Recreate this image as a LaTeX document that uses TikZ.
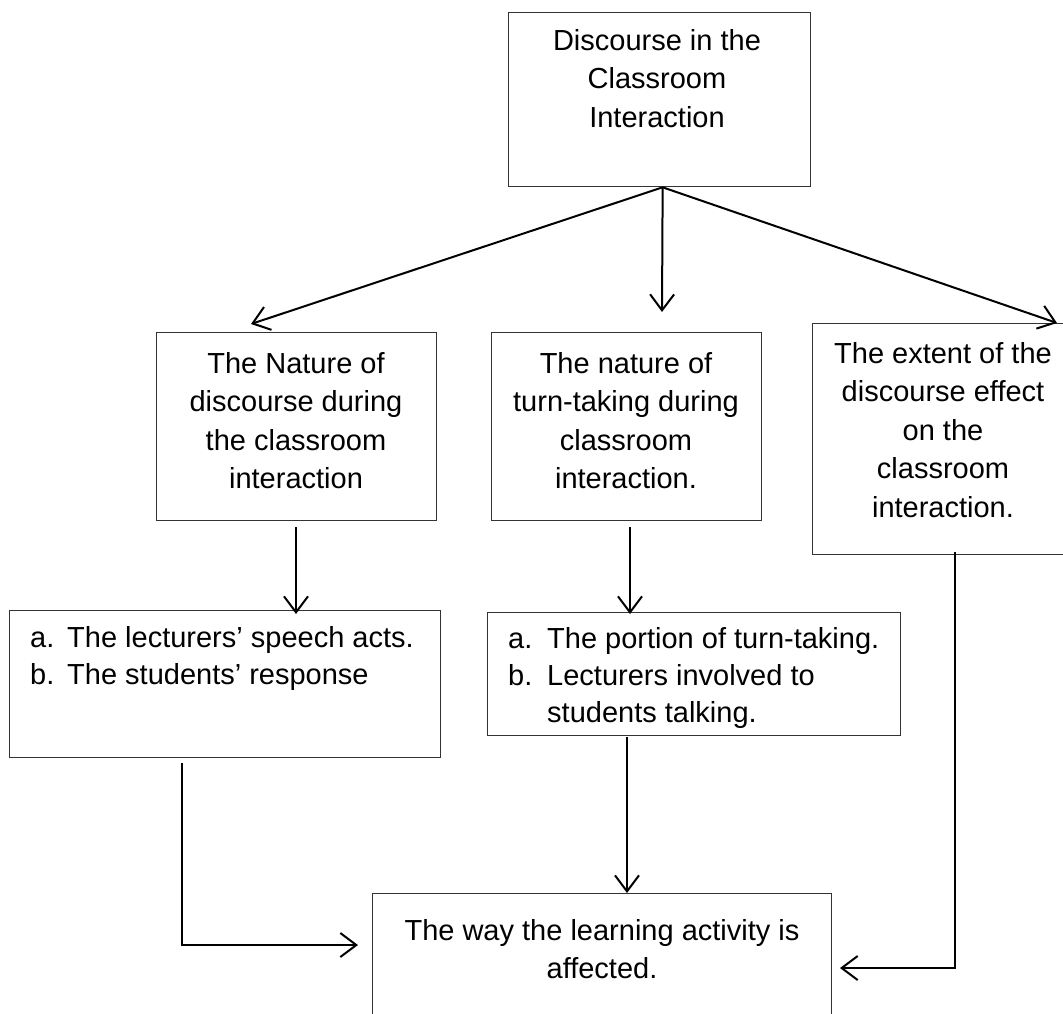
\documentclass[tikz,border=0pt]{standalone}
\usepackage{fontspec}
\setmainfont{Liberation Sans}
\usetikzlibrary{arrows.meta,calc}
\definecolor{boxgray}{gray}{0.2}
\begin{document}
\begin{tikzpicture}[x=1pt,y=-1pt,
  box/.style={draw=boxgray, line width=1.3pt, inner sep=0pt, anchor=north west},
  txt/.style={font=\fontsize{29}{38.5}\selectfont, align=center, anchor=north, inner sep=0pt},
  ltxt/.style={font=\fontsize{29}{37}\selectfont, align=left, anchor=north west, inner sep=0pt},
  conn/.style={line width=2pt, -{Straight Barb[length=16pt,width=24pt,line width=2pt]}}]
\clip (0,0) rectangle (1063,1013);
\useasboundingbox (0,0) rectangle (1063,1013);

% boxes
\node[box, minimum width=302pt, minimum height=174pt] (top) at (508,12) {};
\node[box, minimum width=280pt, minimum height=188pt] (b2) at (156,332) {};
\node[box, minimum width=270pt, minimum height=188pt] (b3) at (491,332) {};
\node[box, minimum width=262pt, minimum height=231pt] (b4) at (812,323) {};
\node[box, minimum width=431pt, minimum height=147pt] (b5) at (9,610) {};
\node[box, minimum width=413pt, minimum height=123pt] (b6) at (487,612) {};
\node[box, minimum width=459pt, minimum height=150pt] (b7) at (372,893) {};

% texts
\node[txt] (t1) at (657,23) {\strut Discourse in the\\Classroom\\Interaction};
\node[txt] (t2) at (296,346) {\strut The Nature of\\discourse during\\the classroom\\interaction};
\node[txt] (t3) at (626,346) {\strut The nature of\\turn-taking during\\classroom\\interaction.};
\node[txt] (t4) at (943,336) {\strut The extent of the\\discourse effect\\on the\\classroom\\interaction.};
\node[ltxt] (t5a) at (30,621) {\strut a.\\b.};
\node[ltxt] (t5b) at (67,621) {\strut The lecturers’ speech acts.\\The students’ response};
\node[ltxt] (t6a) at (508,622) {\strut a.\\b.};
\node[ltxt] (t6b) at (547,622) {\strut The portion of turn-taking.\\Lecturers involved to\\students talking.};
\node[txt] (t7) at (602,913) {\strut The way the learning activity is\\affected.};

% connector end points
\coordinate (s1) at ($(top.south)+(3,0)$);
\coordinate (e2) at (251,324);
\coordinate (e3) at (662,312);
\coordinate (e4) at (1057,323);
\coordinate (s25) at (296,527);
\coordinate (e25) at (296,614);
\coordinate (s36) at (630,527);
\coordinate (e36) at (630,614);
\coordinate (s67) at (627,737);
\coordinate (s5) at (182,763);
\coordinate (k5) at (182,945);
\coordinate (e5) at (358,945);
\coordinate (s4) at (955,552);
\coordinate (k4) at (955,968);
\coordinate (e4b) at (840,968);

\draw[conn] (s1) -- (e2);
\draw[conn] (s1) -- (e3);
\draw[conn] (s1) -- (e4);
\draw[conn] (s25) -- (e25);
\draw[conn] (s36) -- (e36);
\draw[conn] (s67) -- (s67 |- b7.north);
\draw[conn] (s5) -- (k5) -- (e5);
\draw[conn] (s4) -- (k4) -- (e4b);
\end{tikzpicture}
\end{document}
